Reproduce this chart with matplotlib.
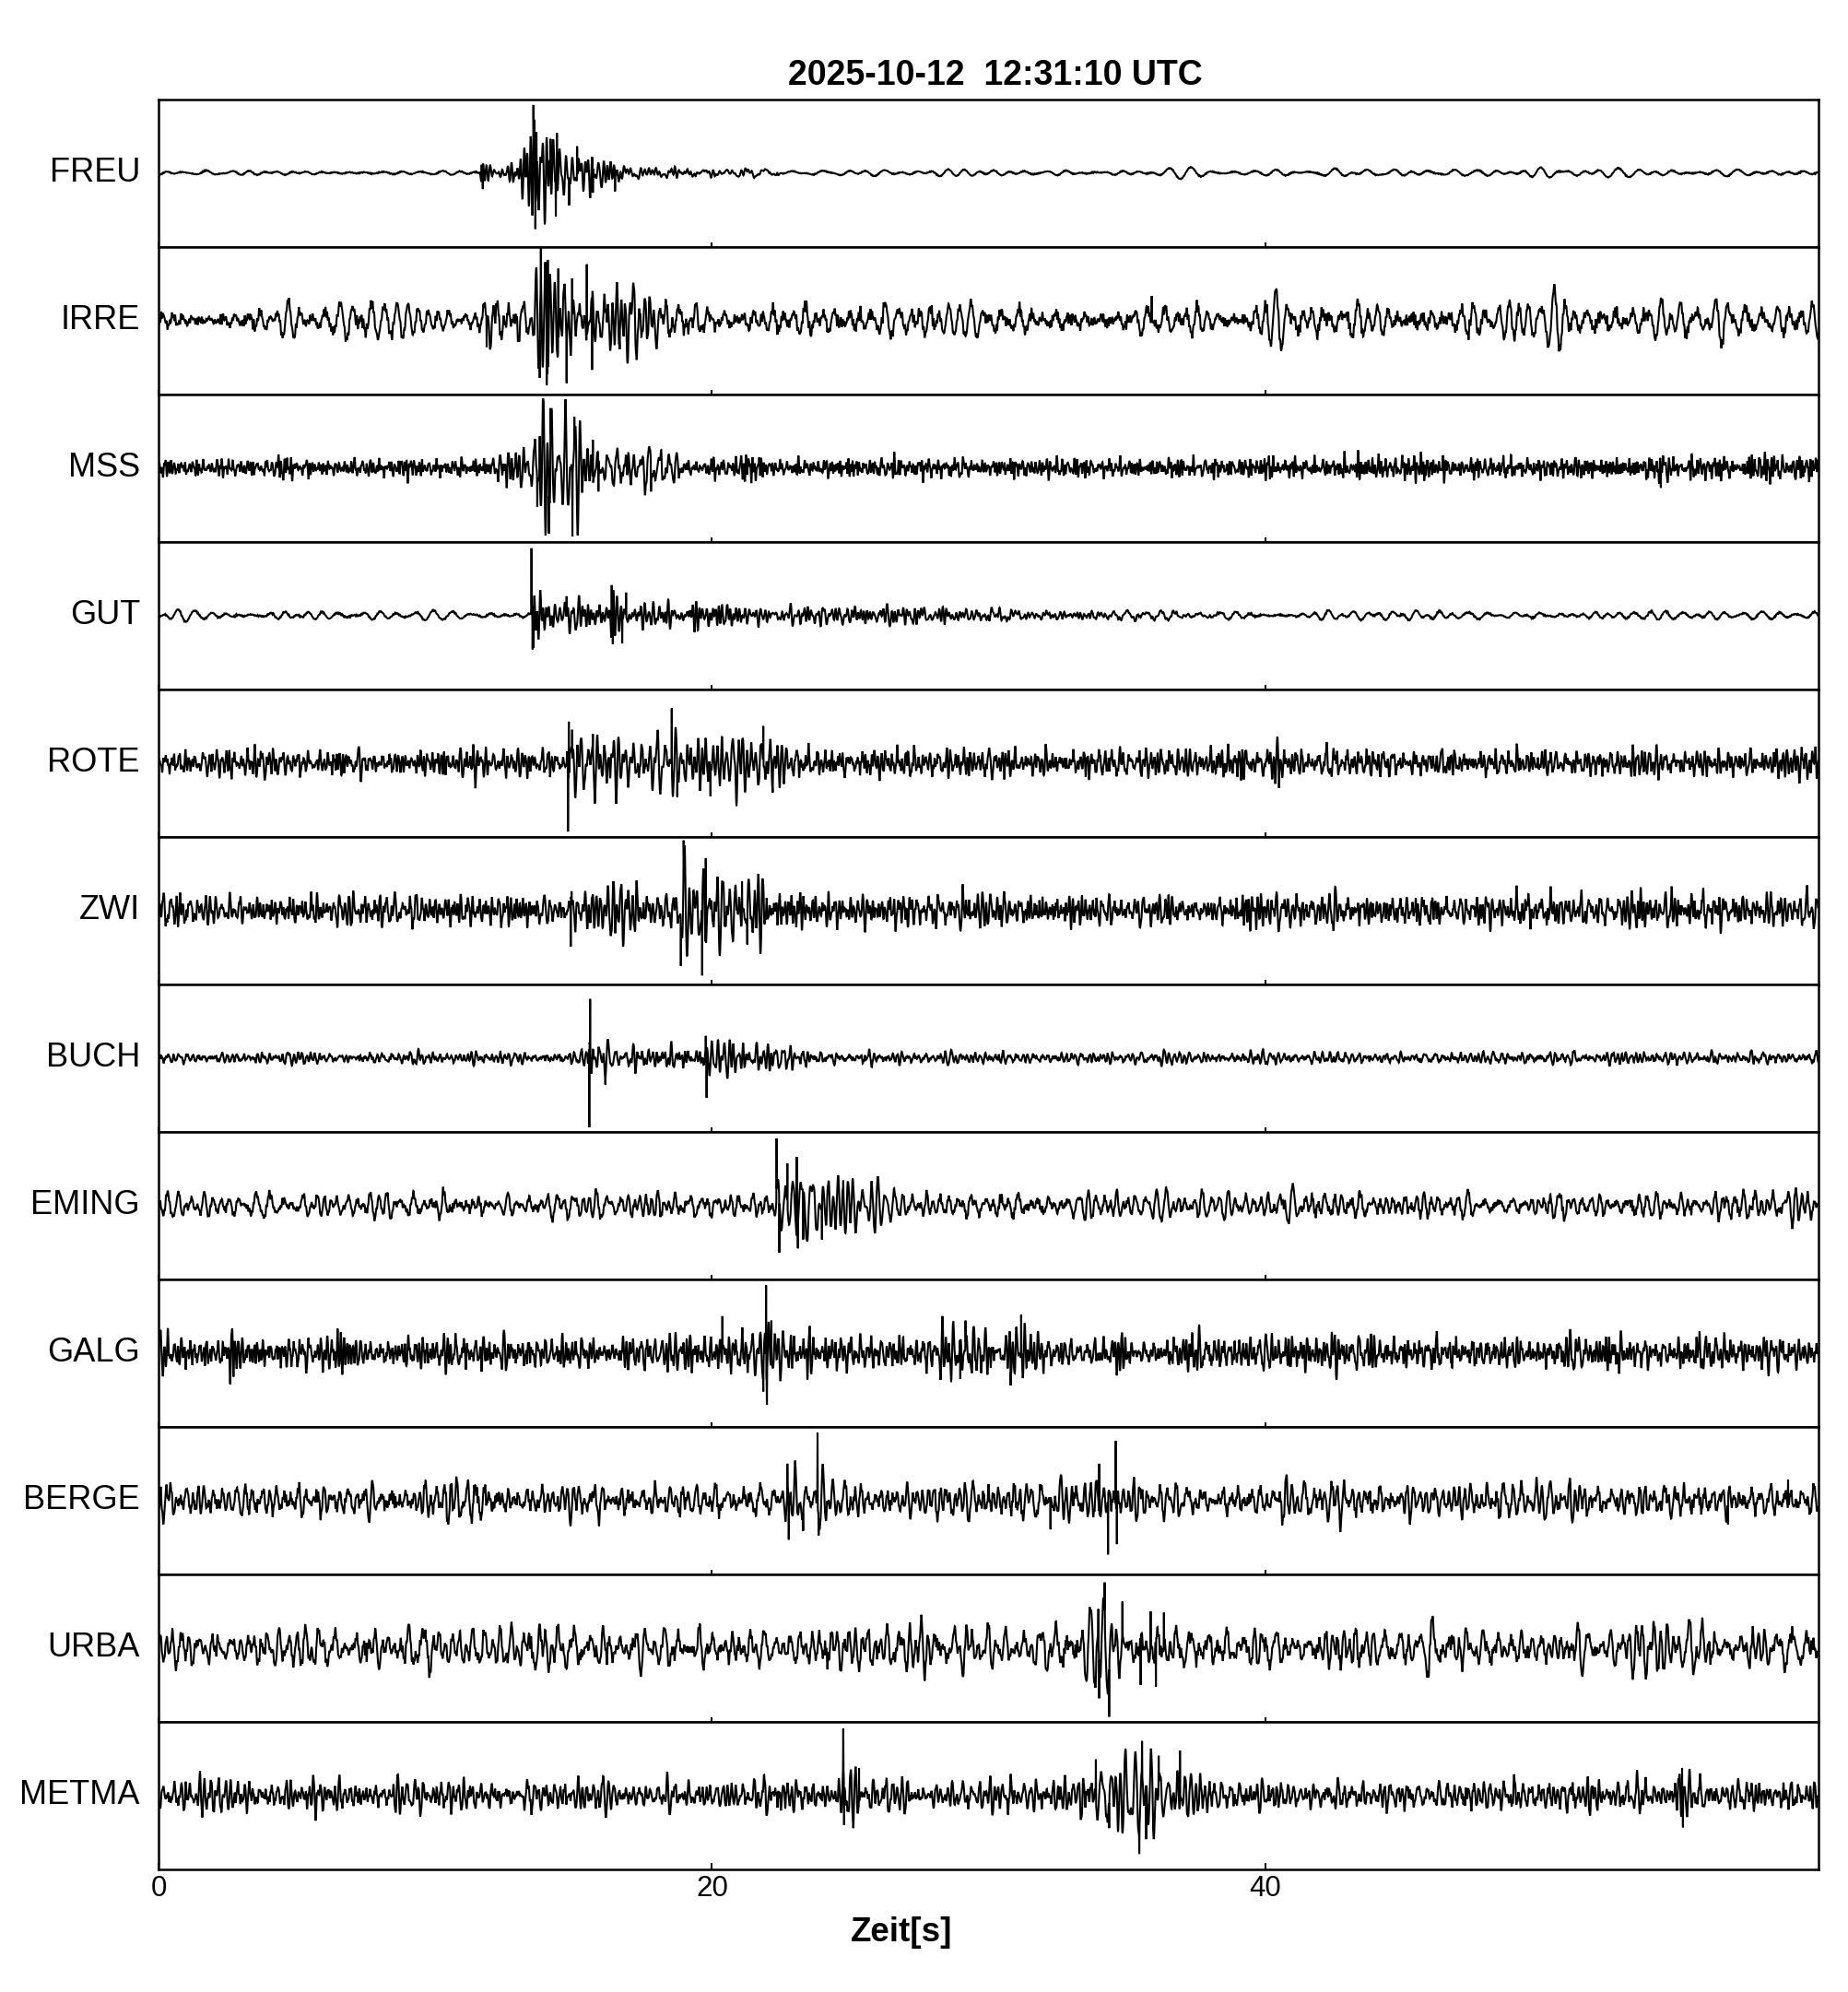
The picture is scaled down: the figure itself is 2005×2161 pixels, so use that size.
import numpy as np
import matplotlib
matplotlib.use("Agg")
import matplotlib.pyplot as plt

plt.rcParams['font.family'] = ['Liberation Sans', 'DejaVu Sans']

# ---------------- data ----------------
TITLE = "2025-10-12  12:31:10 UTC"
XLABEL = "Zeit[s]"
T_END = 60.0
XTICKS = [0, 20, 40]
STATIONS = ["FREU", "IRRE", "MSS", "GUT", "ROTE", "ZWI",
            "BUCH", "EMING", "GALG", "BERGE", "URBA", "METMA"]

# background noise: frequency band (Hz), share of fine jitter, amplitude envelope (time s, amp)
NOISE_BAND = [(0.8, 2.0), (1.5, 3.2), (2.0, 14.0), (1.0, 2.5), (2.0, 10.0), (2.0, 10.0),
              (2.0, 8.0), (1.5, 5.0), (2.5, 10.0), (1.5, 6.0), (1.5, 5.0), (2.0, 8.0)]
JITTER = [0.15, 0.3, 0.4, 0.2, 0.35, 0.35, 0.3, 0.25, 0.35, 0.3, 0.25, 0.3]
FREU_NOISE = [(0, 0.04), (60, 0.045)]
IRRE_NOISE = [(0, 0.2), (60, 0.22)]
MSS_NOISE = [(0, 0.1), (4, 0.1), (4.4, 0.18), (5, 0.1), (8.5, 0.1), (8.8, 0.2), (9.2, 0.1),
             (21, 0.1), (21.4, 0.22), (22, 0.1), (44.5, 0.12), (45.5, 0.2), (46.3, 0.12),
             (54, 0.12), (54.3, 0.25), (54.7, 0.12), (57, 0.12), (58, 0.16), (60, 0.14)]
GUT_NOISE = [(0, 0.05), (60, 0.05)]
ROTE_NOISE = [(0, 0.16), (60, 0.17)]
ZWI_NOISE = [(0, 0.18), (60, 0.2)]
BUCH_NOISE = [(0, 0.07), (60, 0.07)]
EMING_NOISE = [(0, 0.15), (60, 0.17)]
GALG_NOISE = [(0, 0.19), (60, 0.2)]
BERGE_NOISE = [(0, 0.2), (60, 0.21)]
URBA_NOISE = [(0, 0.25), (23, 0.25), (24, 0.32), (26, 0.3), (30, 0.27), (60, 0.26)]
METMA_NOISE = [(0, 0.18), (60, 0.19)]

# earthquake signal: frequency band (Hz) and amplitude envelope (time s, amp)
EVENT_BAND = [(3, 9), (2.5, 7), (2.5, 8), (3, 10), (2.5, 8), (2.5, 8),
              (3, 10), (2, 6), (2.5, 8), (2, 7), (2, 6), (2, 7)]
FREU_EVENT = [(0, 0), (11.6, 0), (11.7, 0.15), (12.0, 0.06), (12.4, 0.12), (13.0, 0.18),
              (13.4, 0.35), (13.6, 0.75), (14.0, 0.6), (14.4, 0.55), (14.9, 0.4), (15.4, 0.32),
              (16.0, 0.25), (16.6, 0.2), (17.3, 0.1), (18.5, 0.06), (21, 0.04), (23, 0), (60, 0)]
IRRE_EVENT = [(0, 0), (11.8, 0), (11.9, 0.25), (12.3, 0.15), (12.7, 0.28), (13.3, 0.35),
              (13.7, 0.8), (14.3, 0.75), (14.9, 0.65), (15.6, 0.6), (16.0, 0.4), (16.8, 0.35),
              (18, 0.22), (19.5, 0.1), (21, 0), (60, 0)]
MSS_EVENT = [(0, 0), (12.0, 0), (12.1, 0.18), (12.5, 0.1), (13.3, 0.3), (13.8, 0.6), (14.2, 0.7),
             (15.0, 0.65), (15.4, 0.4), (16.0, 0.3), (17.8, 0.25), (19, 0.12), (20, 0), (60, 0)]
GUT_EVENT = [(0, 0), (13.45, 0), (13.5, 0.4), (13.8, 0.22), (14.8, 0.22), (16.2, 0.2), (16.4, 0.38),
             (16.9, 0.3), (17.3, 0.18), (19.6, 0.17), (21, 0.12), (25, 0.1), (30, 0.07), (35, 0.03),
             (40, 0), (60, 0)]
ROTE_EVENT = [(0, 0), (14.75, 0), (14.8, 0.3), (16, 0.28), (18.3, 0.3), (18.6, 0.42), (20.5, 0.35),
              (22, 0.3), (23, 0.15), (24, 0), (60, 0)]
ZWI_EVENT = [(0, 0), (14.85, 0), (14.9, 0.3), (16, 0.25), (18.7, 0.28), (19.0, 0.6), (19.9, 0.55),
             (21, 0.4), (22, 0.25), (23, 0.1), (24, 0), (60, 0)]
BUCH_EVENT = [(0, 0), (15.5, 0), (15.55, 0.35), (16.0, 0.3), (16.7, 0.15), (17, 0.1), (19.6, 0.08),
              (19.75, 0.3), (20.3, 0.25), (21.1, 0.18), (23, 0.1), (25, 0), (60, 0)]
EMING_EVENT = [(0, 0), (22.2, 0), (22.3, 0.45), (23.2, 0.5), (24.5, 0.35), (25.5, 0.3), (27, 0.2),
               (28, 0.1), (29, 0), (60, 0)]
GALG_EVENT = [(0, 0), (20.2, 0), (20.4, 0.28), (21, 0.2), (21.9, 0.4), (22.6, 0.25), (23.5, 0.1),
              (27.5, 0.1), (28.3, 0.25), (29.3, 0.25), (30, 0.1), (30.8, 0.2), (31.4, 0.25),
              (32, 0), (60, 0)]
BERGE_EVENT = [(0, 0), (22.6, 0), (22.75, 0.35), (23.8, 0.3), (24.5, 0.15), (25.5, 0), (27.8, 0),
               (28.2, 0.15), (28.8, 0), (33.0, 0), (33.8, 0.35), (34.6, 0.45), (35.3, 0.25),
               (36.5, 0), (60, 0)]
URBA_EVENT = [(0, 0), (33.5, 0), (33.9, 0.4), (34.3, 0.55), (35.3, 0.4), (36.2, 0.3), (37, 0), (60, 0)]
METMA_EVENT = [(0, 0), (24.6, 0), (24.75, 0.3), (25.5, 0.2), (26, 0), (32.8, 0), (33.5, 0.3),
               (35.5, 0.5), (37, 0.3), (38.3, 0.1), (39, 0), (54.7, 0), (55.1, 0.25), (55.5, 0),
               (60, 0)]

# individual extreme samples (time s, value)
FREU_PEAKS = [(11.68, 0.11), (11.72, -0.22), (13.55, 0.92), (13.62, -0.76), (13.66, 0.55),
              (14.17, 0.46), (14.36, -0.59), (14.40, 0.54), (14.84, -0.44), (15.13, 0.36),
              (15.7, -0.27), (16.5, -0.25)]
IRRE_PEAKS = [(11.86, -0.36), (13.78, -0.78), (13.82, 0.98), (14.03, -0.88), (14.07, 0.82),
              (14.45, 0.7), (14.75, -0.85), (14.95, 0.57), (15.48, 0.76), (15.67, -0.67),
              (16.67, -0.39), (35.9, 0.33)]
MSS_PEAKS = [(14.11, -0.89), (14.17, 0.81), (13.69, -0.53), (13.78, 0.43), (14.96, -0.93),
             (15.03, 0.69), (15.7, 0.38), (15.9, -0.32), (17.8, -0.32), (54.3, -0.27)]
GUT_PEAKS = [(13.48, 0.91), (13.52, -0.46), (13.56, -0.44), (14.75, 0.26), (16.38, 0.41),
             (16.42, -0.39), (16.76, -0.38), (16.9, 0.31)]
ROTE_PEAKS = [(14.8, -0.93), (14.83, 0.56), (14.95, 0.45), (15.7, 0.39), (18.55, 0.74),
              (18.75, -0.46), (19.95, -0.45), (21.86, 0.5), (22.2, -0.4), (40.5, -0.34)]
ZWI_PEAKS = [(14.9, -0.49), (14.93, 0.26), (18.88, -0.75), (18.98, 0.95), (19.65, -0.88),
             (19.78, 0.71), (21.09, 0.39), (21.28, -0.46)]
BUCH_PEAKS = [(15.57, -0.94), (15.6, 0.8), (16.15, -0.36), (19.78, 0.3), (19.81, -0.54)]
EMING_PEAKS = [(22.34, 0.91), (22.44, -0.64), (22.73, 0.57), (23.07, 0.66), (23.11, -0.58),
               (23.3, -0.46), (23.98, -0.46), (24.75, 0.34)]
GALG_PEAKS = [(20.38, 0.5), (21.86, -0.52), (21.96, 0.92), (21.99, -0.7), (22.15, 0.44),
              (29.17, 0.44), (28.98, -0.35), (30.8, -0.44), (31.18, 0.52)]
BERGE_PEAKS = [(22.73, 0.5), (22.78, -0.53), (23.3, -0.41), (23.82, 0.92), (23.86, -0.47),
               (34.0, 0.5), (34.32, -0.73), (34.6, 0.81), (34.64, -0.59), (32.24, -0.39),
               (56.73, -0.32), (58.9, 0.28)]
URBA_PEAKS = [(33.97, 0.53), (34.0, -0.68), (34.2, 0.89), (34.36, -0.93), (34.84, 0.63),
              (35.5, -0.5), (35.86, 0.5), (36.05, -0.52), (36.34, 0.48)]
METMA_PEAKS = [(24.75, 0.91), (24.78, -0.4), (25.32, 0.37), (35.45, -0.79), (35.55, 0.74),
               (34.36, -0.44), (33.88, 0.49), (36.15, 0.54), (35.7, -0.59), (35.95, -0.46),
               (36.92, 0.61), (55.07, 0.37), (55.1, -0.43)]

NOISE_ENV = [FREU_NOISE, IRRE_NOISE, MSS_NOISE, GUT_NOISE, ROTE_NOISE, ZWI_NOISE,
             BUCH_NOISE, EMING_NOISE, GALG_NOISE, BERGE_NOISE, URBA_NOISE, METMA_NOISE]
EVENT_ENV = [FREU_EVENT, IRRE_EVENT, MSS_EVENT, GUT_EVENT, ROTE_EVENT, ZWI_EVENT,
             BUCH_EVENT, EMING_EVENT, GALG_EVENT, BERGE_EVENT, URBA_EVENT, METMA_EVENT]
PEAKS = [FREU_PEAKS, IRRE_PEAKS, MSS_PEAKS, GUT_PEAKS, ROTE_PEAKS, ZWI_PEAKS,
         BUCH_PEAKS, EMING_PEAKS, GALG_PEAKS, BERGE_PEAKS, URBA_PEAKS, METMA_PEAKS]

# ---------------- trace construction ----------------
DT = 0.01
t = np.arange(0.0, T_END + DT / 2, DT)
JITTER_BAND = (8.0, 20.0)


def _hash(x):
    """Deterministic scrambling of indices into [0, 1)."""
    v = np.sin(x * 12.9898 + 78.233) * 43758.5453
    return v - np.floor(v)


def carrier(band, offset):
    """Deterministic band-limited oscillation (sum of fixed sinusoids), peaks ~ +-1."""
    k = np.arange(1, 241, dtype=float)
    f = band[0] + (band[1] - band[0]) * _hash(k + 1000.0 * offset)
    ph = 2 * np.pi * _hash(k * 1.7 + 517.0 * offset + 0.31)
    s = np.sin(2 * np.pi * np.outer(f, t) + ph[:, None]).sum(axis=0)
    return s / (2.0 * s.std())


def envelope(points):
    pts = np.array(points, dtype=float)
    return np.interp(t, pts[:, 0], pts[:, 1])


traces = []
for i in range(len(STATIONS)):
    base = carrier(NOISE_BAND[i], 3 * i + 1) + JITTER[i] * carrier(JITTER_BAND, 3 * i + 3)
    y = envelope(NOISE_ENV[i]) * base
    y = y + envelope(EVENT_ENV[i]) * carrier(EVENT_BAND[i], 3 * i + 2)
    limit = max(abs(v) for _, v in PEAKS[i])
    y = np.clip(y, -limit, limit)
    for tp, val in PEAKS[i]:
        y[int(round(tp / DT))] = val
    traces.append(y)

# ---------------- figure ----------------
W, H = 2005, 2161
fig = plt.figure(figsize=(W / 100, H / 100), dpi=100)
ax_left, ax_right, ax_top, ax_bottom = 172 / W, 1973 / W, 1 - 107.5 / H, 1 - 2028 / H
axes = fig.subplots(len(STATIONS), 1, sharex=True,
                    gridspec_kw=dict(hspace=0, left=ax_left, right=ax_right,
                                     top=ax_top, bottom=ax_bottom))

for i, (ax, name) in enumerate(zip(axes, STATIONS)):
    ax.plot(t, traces[i], color='black', lw=1.5, solid_joinstyle='miter')
    ax.set_xlim(0, T_END)
    ax.set_ylim(-1, 1)
    ax.set_yticks([])
    ax.set_xticks(XTICKS)
    last = i == len(STATIONS) - 1
    ax.tick_params(axis='x', direction='in', length=4.8 if last else 3.6, width=1.4,
                   labelbottom=last, labelsize=22.5, pad=4)
    for sp in ax.spines.values():
        sp.set_linewidth(1.8)
    ax.text(-20 / 1801, 0.5, name, transform=ax.transAxes, ha='right', va='center',
            fontsize=26)

axes[-1].set_xticklabels([str(v) for v in XTICKS])
fig.text(1080 / W, 1 - 82 / H, TITLE, ha='center', va='center', fontsize=27,
         fontweight='bold')
fig.text(978 / W, 1 - 2096 / H, XLABEL, ha='center', va='center', fontsize=26.5,
         fontweight='bold')

fig.savefig("out.png", dpi=100)
